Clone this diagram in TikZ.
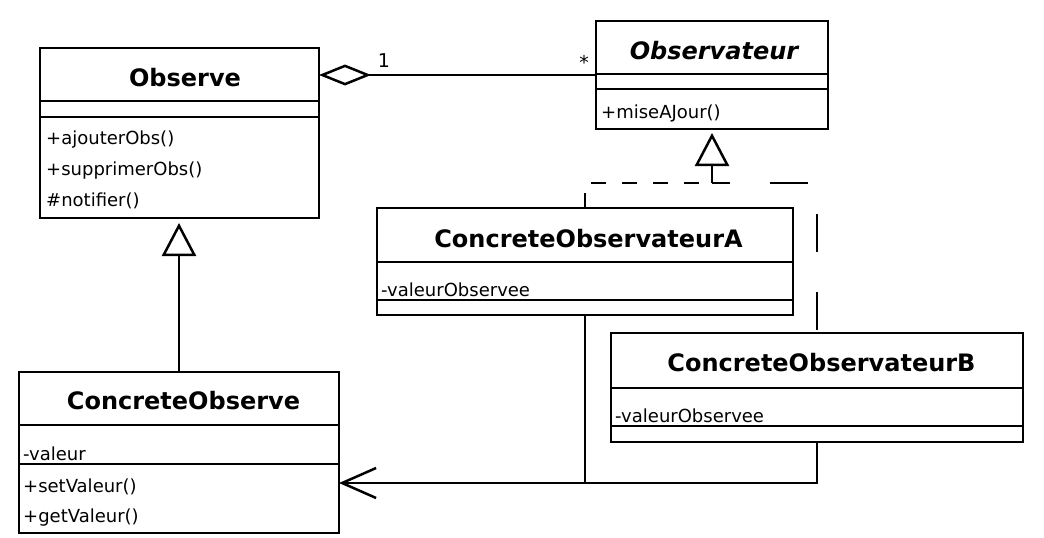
\documentclass[tikz,border=0pt]{standalone}
\usepackage{fontspec}
\setmainfont{DejaVu Sans}
\usetikzlibrary{arrows.meta,calc}
\begin{document}
\begin{tikzpicture}[x=1pt,y=-1pt,
  cls/.style={draw, line width=2.6pt, rectangle, inner sep=0pt, outer sep=0pt, anchor=north west},
  ttl/.style={font=\bfseries\fontsize{24}{28}\selectfont, anchor=base, inner sep=0pt},
  ittl/.style={font=\bfseries\itshape\fontsize{24}{28}\selectfont, anchor=base, inner sep=0pt},
  mem/.style={font=\fontsize{18}{22}\selectfont, anchor=base west, inner sep=0pt},
  lbl/.style={font=\fontsize{19}{22}\selectfont, inner sep=0pt},
  sepline/.style={line width=2.6pt},
  conn/.style={line width=2.5pt},
  dashA/.style={conn, dash pattern=on 15pt off 16pt},
  dashB/.style={conn, dash pattern=on 38pt off 40pt, dash phase=-3pt},
  gen/.style={-{Triangle[open,length=33pt,width=34pt]}},
  agg/.style={{Diamond[open,length=52pt,width=21pt]}-},
  nav/.style={-{Straight Barb[length=34pt,width=30pt]}}
]
\useasboundingbox (0,0) rectangle (1044,538);
\fill[white] (0,0) rectangle (1044,538);

% Observe
\node[cls, minimum width=279pt, minimum height=170pt] (obs) at (40,48) {};
\draw[sepline] (40,101) -- (319,101);
\draw[sepline] (40,117) -- (319,117);
\node[ttl] (obsT) at (185,86) {Observe};
\node[mem] (obsM1) at (46,144) {+ajouterObs()};
\node[mem] (obsM2) at (46,175) {+supprimerObs()};
\node[mem] (obsM3) at (46,206) {\#notifier()};

% Observateur
\node[cls, minimum width=232pt, minimum height=108pt] (obsv) at (596,21) {};
\draw[sepline] (596,74) -- (828,74);
\draw[sepline] (596,89) -- (828,89);
\node[ittl] (obsvT) at (714,59) {Observateur};
\node[mem] (obsvM1) at (601,118) {+miseAJour()};

% ConcreteObservateurA
\node[cls, minimum width=416pt, minimum height=107pt] (coA) at (377,208) {};
\draw[sepline] (377,262) -- (793,262);
\draw[sepline] (377,300) -- (793,300);
\node[ttl] (coAT) at (588.5,247) {ConcreteObservateurA};
\node[mem] (coAA1) at (381,296) {-valeurObservee};

% ConcreteObservateurB
\node[cls, minimum width=412pt, minimum height=109pt] (coB) at (611,333) {};
\draw[sepline] (611,388) -- (1023,388);
\draw[sepline] (611,426) -- (1023,426);
\node[ttl] (coBT) at (821.5,371) {ConcreteObservateurB};
\node[mem] (coBA1) at (615,422) {-valeurObservee};

% ConcreteObserve
\node[cls, minimum width=320pt, minimum height=161pt] (cobs) at (19,372) {};
\draw[sepline] (19,425) -- (339,425);
\draw[sepline] (19,464) -- (339,464);
\node[ttl] (cobsT) at (183.5,409) {ConcreteObserve};
\node[mem] (cobsA1) at (23,460) {-valeur};
\node[mem] (cobsM1) at (23,492) {+setValeur()};
\node[mem] (cobsM2) at (23,522) {+getValeur()};

% aggregation
\draw[conn, agg] (obs.east |- obsv.west) -- (obsv.west);
\node[lbl] (m1) at (384,61) {1};
\node[lbl] (m2) at (584,62) {*};

% realization
\coordinate (jn) at (712,183);
\draw[dashA] (coA.north) |- (jn);
\draw[dashB] (coB.north) |- (jn);
\draw[conn, gen] (jn) -- ([yshift=-4pt]obsv.south);

% generalization
\draw[conn, gen] (cobs.north) -- ([yshift=-5pt]cobs.north |- obs.south);

% navigable association
\coordinate (jn2) at (585,483);
\draw[conn, nav] (coA.south) -- (jn2) -- (cobs.east |- jn2);
\draw[conn] (coB.south) |- (jn2);
\end{tikzpicture}
\end{document}
